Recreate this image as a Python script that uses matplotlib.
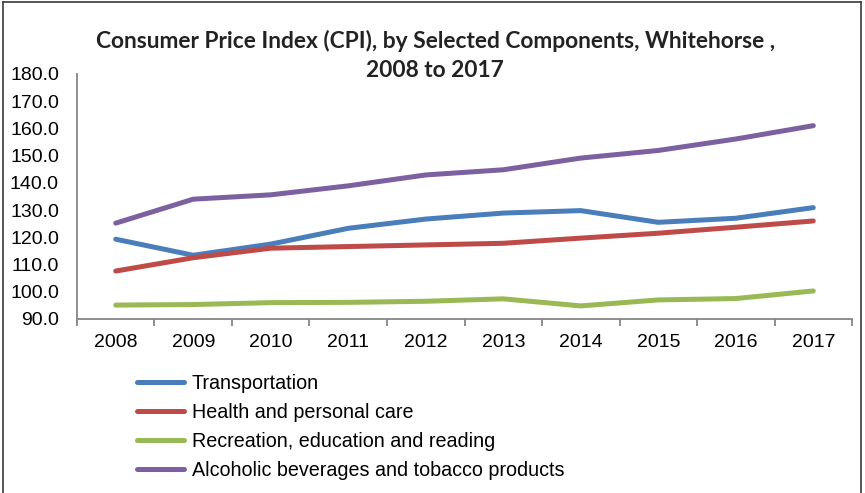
import matplotlib.pyplot as plt
from matplotlib.lines import Line2D
import numpy as np

years = ["2008", "2009", "2010", "2011", "2012", "2013", "2014", "2015", "2016", "2017"]

transportation = [119.3, 113.4, 117.5, 123.3, 126.7, 128.9, 129.8, 125.5, 127.0, 130.9]
health = [107.6, 112.5, 116.0, 116.6, 117.2, 117.8, 119.7, 121.5, 123.7, 126.0]
recreation = [95.1, 95.3, 96.0, 96.1, 96.5, 97.4, 94.8, 97.0, 97.5, 100.3]
alcohol = [125.2, 134.0, 135.6, 138.9, 142.9, 144.8, 149.1, 151.9, 156.1, 161.0]

labels = ["Transportation", "Health and personal care",
          "Recreation, education and reading",
          "Alcoholic beverages and tobacco products"]
colors = ["#4A7EBB", "#BE4B48", "#98B954", "#7D60A0"]

plt.rcParams['font.family'] = ['Liberation Sans', 'DejaVu Sans']

fig = plt.figure(figsize=(8.65, 4.93), dpi=100)
ax = fig.add_axes([0.089, 0.353, 0.896, 0.497])

x = np.arange(len(years))
for vals, c in zip([transportation, health, recreation, alcohol], colors):
    ax.plot(x, vals, color=c, lw=3.6, solid_capstyle='round', solid_joinstyle='round')

ax.set_xlim(-0.5, len(years) - 0.5)
ax.set_ylim(90, 180)
ax.set_yticks(np.arange(90, 181, 10))
ax.set_yticklabels([f"{v:.1f}" for v in np.arange(90, 181, 10)])
ax.set_xticks(x)
ax.set_xticklabels(years)
ax.set_xticks(np.arange(-0.5, len(years), 1), minor=True)

ax.tick_params(axis='x', which='major', length=0, pad=11, labelsize=14)
ax.tick_params(axis='x', which='minor', length=5, width=1.3, color='#868686', direction='out')
ax.tick_params(axis='y', length=0, pad=13, labelsize=14)

for s in ['top', 'right']:
    ax.spines[s].set_visible(False)
for s in ['left', 'bottom']:
    ax.spines[s].set_color('#868686')
    ax.spines[s].set_linewidth(1.3)
ax.spines['left'].set_bounds(89, 180)

fig.text(0.503, 0.888, "Consumer Price Index (CPI), by Selected Components, Whitehorse ,\n2008 to 2017",
         ha='center', va='center', fontsize=16.4, fontweight='bold', family=['Lato', 'DejaVu Sans'],
         color='#222222', linespacing=1.45)

handles = [Line2D([0], [0], color=c, lw=3.6, solid_capstyle='round') for c in colors]
fig.legend(handles, labels, loc='upper left', bbox_to_anchor=(0.158, 0.241), frameon=False,
           fontsize=14.2, handlelength=2.4, handletextpad=0.4, labelspacing=0.5,
           borderaxespad=0, borderpad=0)

# outer border of the chart
for xs, ys in [([0.004, 0.004], [0.0, 0.995]), ([0.004, 0.995], [0.995, 0.995]),
               ([0.995, 0.995], [0.0, 0.995])]:
    fig.add_artist(Line2D(xs, ys, color='#3a3a3a', lw=1.2, transform=fig.transFigure))

fig.savefig("out.png", dpi=100)
